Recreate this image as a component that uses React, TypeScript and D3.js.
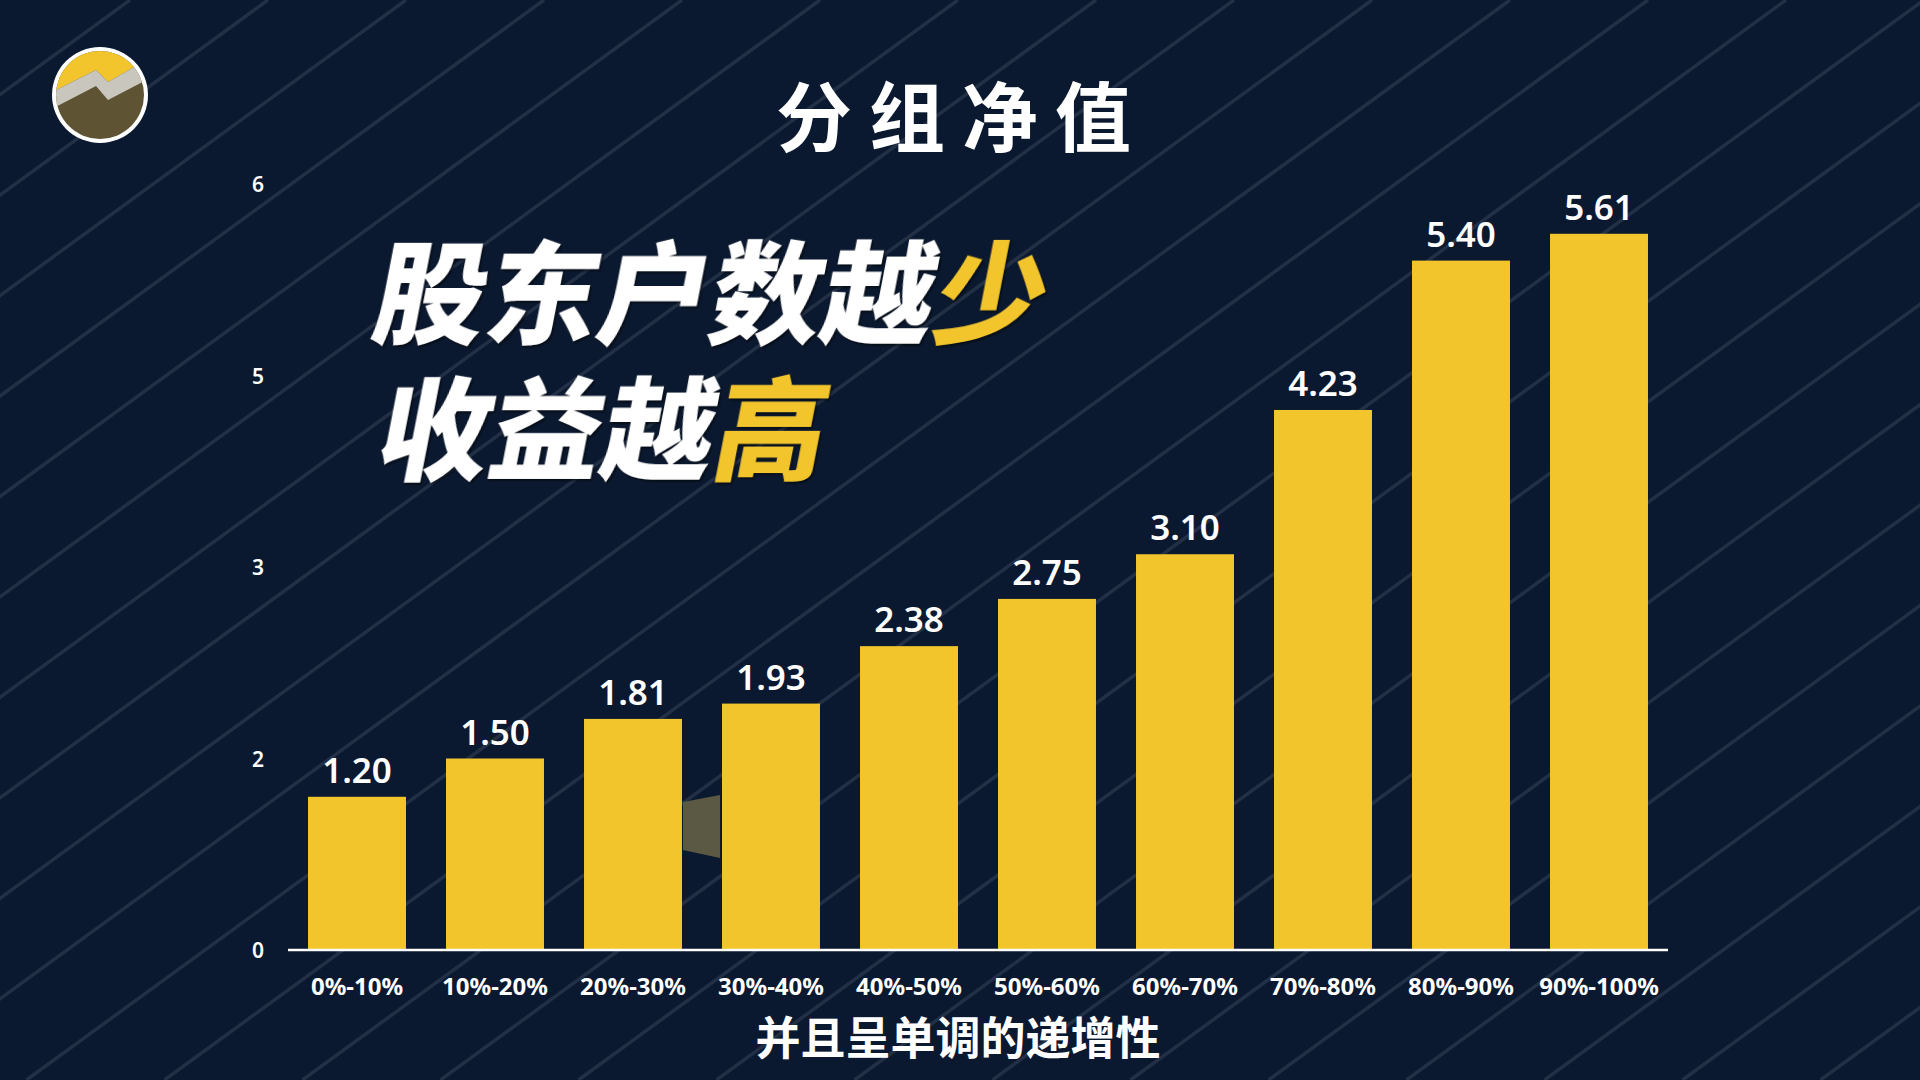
import React from "react";
import * as d3 from "d3";

const categories = ["0%-10%", "10%-20%", "20%-30%", "30%-40%", "40%-50%", "50%-60%", "60%-70%", "70%-80%", "80%-90%", "90%-100%"];
const values = [1.2, 1.5, 1.81, 1.93, 2.38, 2.75, 3.1, 4.23, 5.4, 5.61];
const yTickValues = [0, 1.5, 3, 4.5, 6];
const yTickLabels = ["0", "2", "3", "5", "6"];
const titleText = "分组净值";
const headlineLine1 = ["股东户数越", "少"];
const headlineLine2 = ["收益越", "高"];
const subtitleText = "并且呈单调的递增性";

const W = 1920;
const H = 1080;
const BG = "#0b1930";
const YELLOW = "#f2c52c";
const CJK = "'Noto Sans CJK SC', 'Noto Sans', sans-serif";
const LATIN = "'Noto Sans', 'Open Sans', sans-serif";

export default function App() {
  const x = d3.scaleBand<string>().domain(categories).range([288, 1668]).paddingInner(0.29).paddingOuter(0.145);
  const y = d3.scaleLinear().domain([0, 6]).range([950, 184]);

  // decorative diagonal stripes
  const slope = 0.728;
  const stripeX0 = d3.range(-20, 16).map((k) => 1510 + 138 * k);

  return (
    <svg width={W} height={H} viewBox={`0 0 ${W} ${H}`} style={{ position: "fixed", left: 0, top: 0, display: "block" }}>
      <defs>
        <clipPath id="logoClip">
          <circle cx={100} cy={95} r={44} />
        </clipPath>
      </defs>
      <rect x={0} y={0} width={W} height={H} fill={BG} />
      <g stroke="rgba(205,212,225,0.12)" strokeWidth={3.5}>
        {stripeX0.map((x0, i) => (
          <line key={i} x1={x0} y1={0} x2={x0 - H / slope} y2={H} />
        ))}
      </g>

      {/* logo */}
      <g>
        <circle cx={100} cy={95} r={48} fill="#ffffff" />
        <g clipPath="url(#logoClip)">
          <rect x={50} y={45} width={100} height={100} fill="#5e5434" />
          <polygon points="50,45 150,45 150,58 108,82 96,70 50,93" fill={YELLOW} />
          <polygon points="50,93 96,70 108,82 150,58 150,78 108,100 96,86 50,110" fill="#c9c7bd" />
        </g>
      </g>

      {/* small decorative wedge */}
      <polygon points="683,802 720,795 720,858 683,850" fill="#5b5844" />

      {/* title */}
      <text x={962} y={113} textAnchor="middle" dominantBaseline="central" fill="#ffffff" fontFamily={CJK} fontWeight={700} fontSize={76} letterSpacing={17}>
        {titleText}
      </text>

      {/* y tick labels */}
      {yTickValues.map((t, i) => (
        <text key={t} x={258} y={y(t)} textAnchor="middle" dominantBaseline="central" fill="#ffffff" fontFamily={LATIN} fontSize={21} fontWeight={600}>
          {yTickLabels[i]}
        </text>
      ))}

      {/* bars */}
      {values.map((v, i) => (
        <rect key={categories[i]} x={x(categories[i])} y={y(v)} width={x.bandwidth()} height={y(0) - y(v)} fill={YELLOW} />
      ))}

      {/* value labels */}
      {values.map((v, i) => (
        <text key={"v" + i} x={(x(categories[i]) as number) + x.bandwidth() / 2} y={y(v) - 14} textAnchor="middle" fill="#ffffff" fontFamily={LATIN} fontSize={35} fontWeight={600}>
          {d3.format(".2f")(v)}
        </text>
      ))}

      {/* axis line */}
      <line x1={288} x2={1668} y1={y(0)} y2={y(0)} stroke="#ffffff" strokeWidth={2.5} />

      {/* x labels */}
      {categories.map((c) => (
        <text key={c} x={(x(c) as number) + x.bandwidth() / 2} y={985} textAnchor="middle" dominantBaseline="central" fill="#ffffff" fontFamily={LATIN} fontSize={24} fontWeight={700}>
          {c}
        </text>
      ))}

      {/* headline */}
      <g transform="translate(378,287) skewX(-11)" style={{ filter: "drop-shadow(2px 2px 1px rgba(0,0,0,0.5))" }}>
        <text x={0} y={0} dominantBaseline="central" fontFamily={CJK} fontWeight={900} fontSize={112} fill="#ffffff">
          {headlineLine1[0]}
          <tspan fill={YELLOW}>{headlineLine1[1]}</tspan>
        </text>
      </g>
      <g transform="translate(382,423) skewX(-11)" style={{ filter: "drop-shadow(2px 2px 1px rgba(0,0,0,0.5))" }}>
        <text x={0} y={0} dominantBaseline="central" fontFamily={CJK} fontWeight={900} fontSize={112} fill="#ffffff">
          {headlineLine2[0]}
          <tspan fill={YELLOW}>{headlineLine2[1]}</tspan>
        </text>
      </g>

      {/* subtitle */}
      <text x={958} y={1035} textAnchor="middle" dominantBaseline="central" fill="#ffffff" fontFamily={CJK} fontWeight={700} fontSize={45}>
        {subtitleText}
      </text>
    </svg>
  );
}
